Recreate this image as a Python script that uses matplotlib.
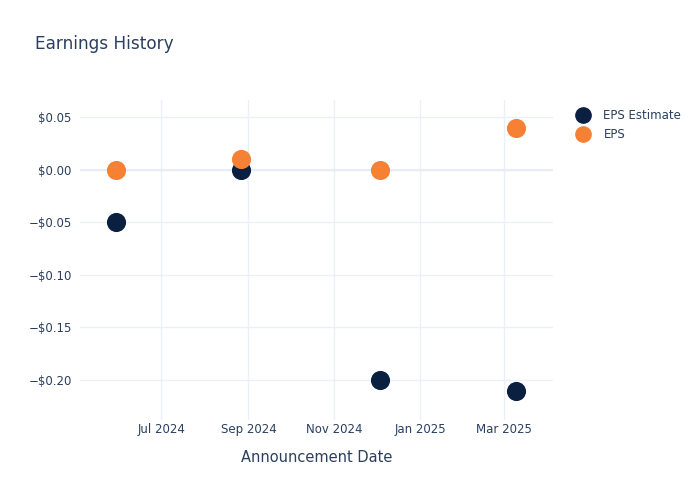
import numpy as np
import pandas as pd
import matplotlib
matplotlib.use("Agg")
import matplotlib.pyplot as plt
import matplotlib.dates as mdates
from matplotlib.ticker import FuncFormatter
from matplotlib.lines import Line2D

# data
dates = pd.to_datetime(["2024-05-30", "2024-08-27", "2024-12-03", "2025-03-10"])
eps_estimate = [-0.05, 0.00, -0.20, -0.21]
eps_actual = [0.00, 0.01, 0.00, 0.04]

y_ticks = [0.05, 0.0, -0.05, -0.10, -0.15, -0.20]
x_ticks = pd.to_datetime(["2024-07-01", "2024-09-01", "2024-11-01", "2025-01-01", "2025-03-01"])

navy = "#0b1f40"
orange = "#f68135"
text_col = "#2a3f5f"
grid_col = "#ebf0f8"

fig = plt.figure(figsize=(7, 5), dpi=100)
ax = fig.add_axes([80 / 700, 1 - 420 / 500, (553 - 80) / 700, 320 / 500])

ax.scatter(dates, eps_estimate, s=190, color=navy, zorder=3, linewidths=0)
ax.scatter(dates, eps_actual, s=190, color=orange, zorder=4, linewidths=0)

ax.set_xlim(pd.Timestamp("2024-05-04 12:00"), pd.Timestamp("2025-04-05"))
ax.set_ylim(-0.238, 0.0662)

ax.set_yticks(y_ticks)
ax.yaxis.set_major_formatter(FuncFormatter(
    lambda v, p: ("\u2212$%.2f" % abs(v)) if v < -1e-9 else "$%.2f" % abs(v)))
ax.set_xticks(x_ticks)
ax.xaxis.set_major_formatter(mdates.DateFormatter("%b %Y"))

ax.grid(True, color=grid_col, linewidth=1)
ax.axhline(0, color="#e8edf5", linewidth=1.6, zorder=1)
ax.set_axisbelow(True)
for s in ax.spines.values():
    s.set_visible(False)
ax.tick_params(length=0, labelsize=8.5, labelcolor=text_col, pad=6)
ax.tick_params(axis="x", pad=2)

ax.set_xlabel("Announcement Date", fontsize=10.5, color=text_col, labelpad=10)
fig.text(35 / 700, 1 - 44 / 500, "Earnings History", fontsize=12.2,
         color=text_col, va="center", ha="left")

handles = [
    Line2D([], [], marker="o", linestyle="", markersize=11, color=navy, label="EPS Estimate"),
    Line2D([], [], marker="o", linestyle="", markersize=11, color=orange, label="EPS"),
]
leg = fig.legend(handles=handles, loc="upper left", bbox_to_anchor=(568 / 700, 1 - 103 / 500),
                 frameon=False, fontsize=8.5, handletextpad=1.0, labelspacing=0.55,
                 borderpad=0, handlelength=1.5)
for t in leg.get_texts():
    t.set_color(text_col)

fig.savefig("out.png", dpi=100)
